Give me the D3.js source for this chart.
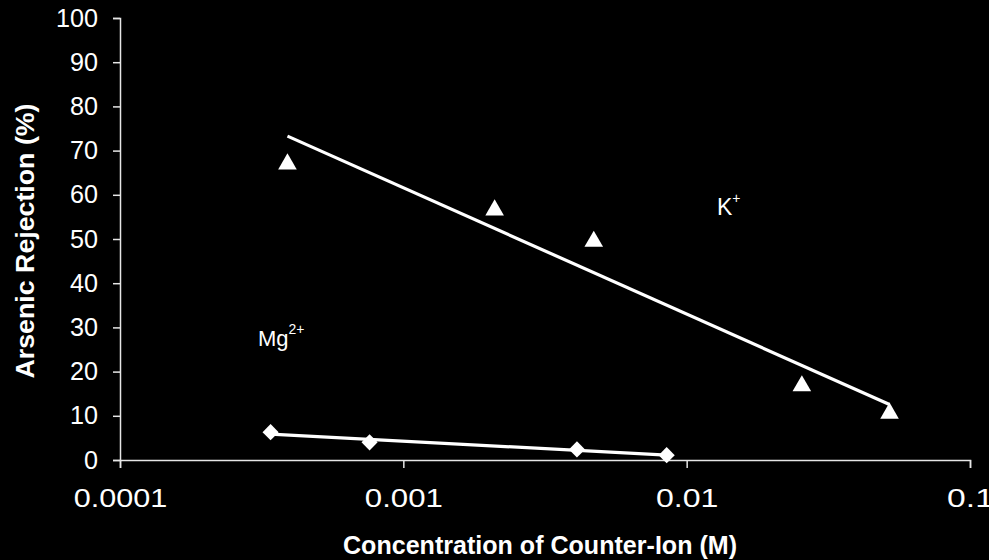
<!DOCTYPE html>
<html>
<head>
<meta charset="utf-8">
<script src="https://cdn.jsdelivr.net/npm/d3@7"></script>
<style>
  html, body { margin: 0; padding: 0; background: #000; }
  svg { display: block; }
  text { font-family: "Liberation Sans", Arial, sans-serif; fill: #fff; }
</style>
</head>
<body>
<svg id="chart" width="989" height="560"></svg>
<script>
// Arsenic rejection vs counter-ion concentration
const kConc = [0.00039, 0.0021, 0.0047, 0.0255, 0.052];
const kRejection = [67.3, 56.9, 49.8, 17.1, 10.9];
const mgConc = [0.00034, 0.00076, 0.0041, 0.0085];
const mgRejection = [6.3, 4.0, 2.4, 1.1];
const xTicks = [0.0001, 0.001, 0.01, 0.1];
const xTickLabels = ["0.0001", "0.001", "0.01", "0.1"];
const yTicks = [0, 10, 20, 30, 40, 50, 60, 70, 80, 90, 100];

const svg = d3.select("#chart");
const x = d3.scaleLog().domain([0.0001, 0.1]).range([120, 970]);
const y = d3.scaleLinear().domain([0, 100]).range([460, 18]);
const axisColor = "#e6e6e6";

// Logarithmic least-squares trend: y = a + b*log10(x)
function logFit(xs, ys) {
  const lx = xs.map(v => Math.log10(v));
  const mx = d3.mean(lx), my = d3.mean(ys);
  const sxy = d3.sum(lx, (v, i) => (v - mx) * (ys[i] - my));
  const sxx = d3.sum(lx, v => (v - mx) * (v - mx));
  const b = sxy / sxx, a = my - b * mx;
  return v => a + b * Math.log10(v);
}

// Axes
const yAxis = svg.append("g")
  .attr("transform", "translate(120,0)")
  .call(d3.axisLeft(y).tickValues(yTicks).tickSize(7).tickPadding(15));
const xAxis = svg.append("g")
  .attr("transform", "translate(0,460)")
  .call(d3.axisBottom(x).tickValues(xTicks).tickFormat((d, i) => xTickLabels[i])
    .tickSize(8).tickPadding(21));
[xAxis, yAxis].forEach(g => {
  g.select(".domain").attr("stroke", axisColor).attr("stroke-width", 1.5);
  g.selectAll(".tick line").attr("stroke", axisColor).attr("stroke-width", 1.5);
  g.selectAll(".tick text").attr("fill", "#fff")
    .style("font-family", "'Liberation Sans', Arial, sans-serif");
});
yAxis.selectAll(".tick text").style("font-size", "25px")
  .attr("textLength", d => String(d).length * 14)
  .attr("lengthAdjust", "spacingAndGlyphs");
xAxis.selectAll(".tick text").style("font-size", "25px")
  .attr("textLength", (d, i) => xTickLabels[i].length * 15.6)
  .attr("lengthAdjust", "spacingAndGlyphs");

// Trend lines
function trend(xs, ys) {
  const f = logFit(xs, ys);
  const ext = d3.extent(xs);
  svg.append("path")
    .attr("d", d3.line()([[x(ext[0]), y(f(ext[0]))], [x(ext[1]), y(f(ext[1]))]]))
    .attr("stroke", "#fff").attr("stroke-width", 3.2).attr("fill", "none");
}
trend(kConc, kRejection);
trend(mgConc, mgRejection);

// Markers
const triangle = d3.symbol().type(d3.symbolTriangle).size(150);
svg.append("g").selectAll("path").data(kConc).join("path")
  .attr("d", triangle)
  .attr("transform", (d, i) => `translate(${x(d)},${y(kRejection[i]) + 1.5})`)
  .attr("fill", "#fff");

const diamond = d3.symbol().type(d3.symbolSquare).size(130);
svg.append("g").selectAll("path").data(mgConc).join("path")
  .attr("d", diamond)
  .attr("transform", (d, i) => `translate(${x(d)},${y(mgRejection[i])}) rotate(45)`)
  .attr("fill", "#fff");

// Series labels
const kLabel = svg.append("text").attr("x", 717).attr("y", 215).style("font-size", "23px");
kLabel.append("tspan").text("K");
kLabel.append("tspan").attr("dy", -12).style("font-size", "14px").text("+");

const mgLabel = svg.append("text").attr("x", 258).attr("y", 346).style("font-size", "22px");
mgLabel.append("tspan").text("Mg");
mgLabel.append("tspan").attr("dy", -12).style("font-size", "14px").text("2+");

// Axis titles
svg.append("text")
  .attr("transform", "translate(34,241) rotate(-90)")
  .attr("text-anchor", "middle")
  .style("font-size", "25px").style("font-weight", "bold")
  .attr("textLength", 275).attr("lengthAdjust", "spacingAndGlyphs")
  .text("Arsenic Rejection  (%)");

svg.append("text")
  .attr("x", 540).attr("y", 554)
  .attr("text-anchor", "middle")
  .style("font-size", "26px").style("font-weight", "bold")
  .attr("textLength", 394).attr("lengthAdjust", "spacingAndGlyphs")
  .text("Concentration of Counter-Ion (M)");
</script>
</body>
</html>
